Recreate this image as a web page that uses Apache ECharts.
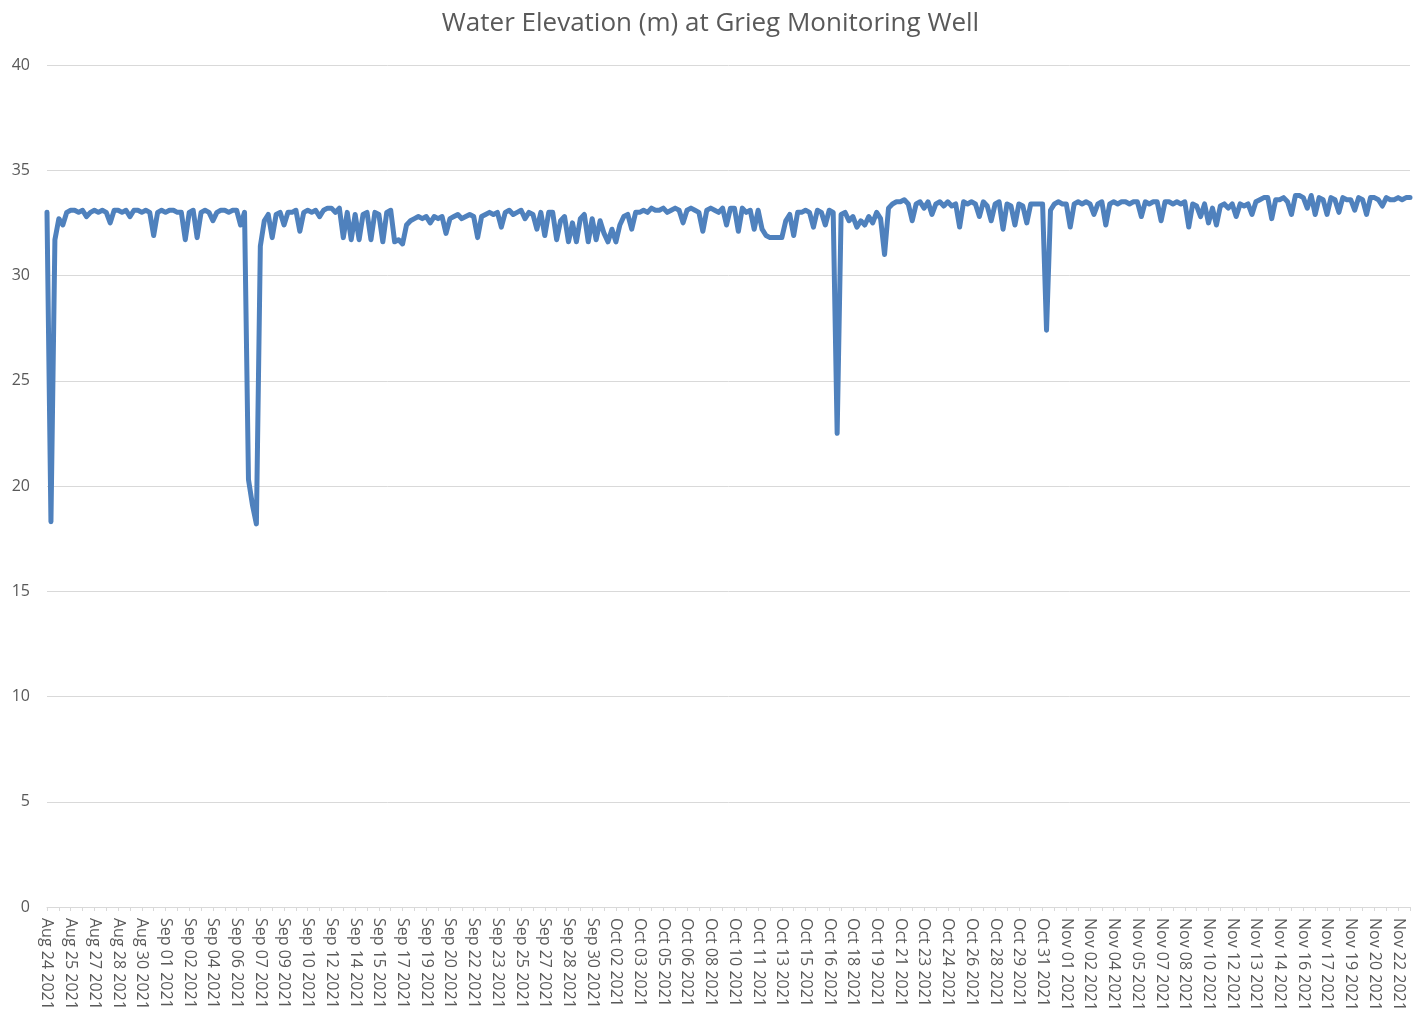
<!DOCTYPE html>
<html>
<head>
<meta charset="utf-8">
<title>Water Elevation (m) at Grieg Monitoring Well</title>
<script src="https://cdn.jsdelivr.net/npm/echarts@6/dist/echarts.min.js"></script>
<style>
  html, body { margin: 0; padding: 0; background: #fff; }
  #chart { width: 1421px; height: 1019px; }
</style>
</head>
<body>
<div id="chart"></div>
<script>
// category labels shown under the axis (one every 6 readings)
var tickLabels = [
  'Aug 24 2021', 'Aug 25 2021', 'Aug 27 2021', 'Aug 28 2021', 'Aug 30 2021',
  'Sep 01 2021', 'Sep 02 2021', 'Sep 04 2021', 'Sep 06 2021', 'Sep 07 2021',
  'Sep 09 2021', 'Sep 10 2021', 'Sep 12 2021', 'Sep 14 2021', 'Sep 15 2021',
  'Sep 17 2021', 'Sep 19 2021', 'Sep 20 2021', 'Sep 22 2021', 'Sep 23 2021',
  'Sep 25 2021', 'Sep 27 2021', 'Sep 28 2021', 'Sep 30 2021', 'Oct 02 2021',
  'Oct 03 2021', 'Oct 05 2021', 'Oct 06 2021', 'Oct 08 2021', 'Oct 10 2021',
  'Oct 11 2021', 'Oct 13 2021', 'Oct 15 2021', 'Oct 16 2021', 'Oct 18 2021',
  'Oct 19 2021', 'Oct 21 2021', 'Oct 23 2021', 'Oct 24 2021', 'Oct 26 2021',
  'Oct 28 2021', 'Oct 29 2021', 'Oct 31 2021', 'Nov 01 2021', 'Nov 02 2021',
  'Nov 04 2021', 'Nov 05 2021', 'Nov 07 2021', 'Nov 08 2021', 'Nov 10 2021',
  'Nov 12 2021', 'Nov 13 2021', 'Nov 14 2021', 'Nov 16 2021', 'Nov 17 2021',
  'Nov 19 2021', 'Nov 20 2021', 'Nov 22 2021'
];
var perLabel = 6;

// water elevation (m), 6 readings per label
var augLevels = [
  33.0, 18.3, 31.7, 32.7, 32.4, 33.0,
  33.1, 33.1, 33.0, 33.1, 32.8, 33.0,
  33.1, 33.0, 33.1, 33.0, 32.5, 33.1,
  33.1, 33.0, 33.1, 32.8, 33.1, 33.1,
  33.0, 33.1, 33.0, 31.9, 33.0, 33.1
];
var sepLevels = [
  33.0, 33.1, 33.1, 33.0, 33.0, 31.7,
  33.0, 33.1, 31.8, 33.0, 33.1, 33.0,
  32.6, 33.0, 33.1, 33.1, 33.0, 33.1,
  33.1, 32.4, 33.0, 20.3, 19.1, 18.2,
  31.4, 32.6, 32.9, 31.8, 32.9, 33.0,
  32.4, 33.0, 33.0, 33.1, 32.1, 33.0,
  33.1, 33.0, 33.1, 32.8, 33.1, 33.2,
  33.2, 33.0, 33.2, 31.8, 33.0, 31.7,
  32.9, 31.7, 32.9, 33.0, 31.7, 33.0,
  32.9, 31.6, 33.0, 33.1, 31.6, 31.7,
  31.5, 32.4, 32.6, 32.7, 32.8, 32.7,
  32.8, 32.5, 32.8, 32.7, 32.8, 32.0,
  32.7, 32.8, 32.9, 32.7, 32.8, 32.9,
  32.8, 31.8, 32.8, 32.9, 33.0, 32.9,
  33.0, 32.3, 33.0, 33.1, 32.9, 33.0,
  33.1, 32.7, 33.0, 32.9, 32.2, 33.0,
  31.9, 33.0, 33.0, 31.7, 32.6, 32.8,
  31.6, 32.5, 31.6, 32.7, 32.9, 31.6,
  32.7, 31.7, 32.6, 32.0, 31.6, 32.2
];
var octLevels = [
  31.6, 32.4, 32.8, 32.9, 32.2, 33.0,
  33.0, 33.1, 33.0, 33.2, 33.1, 33.1,
  33.2, 33.0, 33.1, 33.2, 33.1, 32.5,
  33.1, 33.2, 33.1, 33.0, 32.1, 33.1,
  33.2, 33.1, 33.0, 33.2, 32.4, 33.2,
  33.2, 32.1, 33.2, 33.0, 33.1, 32.2,
  33.1, 32.2, 31.9, 31.8, 31.8, 31.8,
  31.8, 32.6, 32.9, 31.9, 33.0, 33.0,
  33.1, 33.0, 32.3, 33.1, 33.0, 32.4,
  33.1, 33.0, 22.5, 32.9, 33.0, 32.6,
  32.8, 32.3, 32.6, 32.4, 32.8, 32.5,
  33.0, 32.7, 31.0, 33.2, 33.4, 33.5,
  33.5, 33.6, 33.4, 32.6, 33.4, 33.5,
  33.2, 33.5, 32.9, 33.4, 33.5, 33.3,
  33.5, 33.3, 33.4, 32.3, 33.5, 33.4,
  33.5, 33.4, 32.8, 33.5, 33.3, 32.6,
  33.4, 33.5, 32.2, 33.4, 33.3, 32.4,
  33.4, 33.3, 32.5, 33.4, 33.4, 33.4,
  33.4, 27.4, 33.1, 33.4, 33.5, 33.4
];
var novLevels = [
  33.4, 32.3, 33.4, 33.5, 33.4, 33.5,
  33.4, 32.9, 33.4, 33.5, 32.4, 33.4,
  33.5, 33.4, 33.5, 33.5, 33.4, 33.5,
  33.5, 32.8, 33.5, 33.4, 33.5, 33.5,
  32.6, 33.5, 33.5, 33.4, 33.5, 33.4,
  33.5, 32.3, 33.4, 33.3, 32.8, 33.4,
  32.5, 33.2, 32.4, 33.3, 33.4, 33.2,
  33.4, 32.8, 33.4, 33.3, 33.4, 32.9,
  33.5, 33.6, 33.7, 33.7, 32.7, 33.6,
  33.6, 33.7, 33.5, 32.9, 33.8, 33.8,
  33.7, 33.2, 33.8, 32.9, 33.7, 33.6,
  32.9, 33.7, 33.6, 33.0, 33.7, 33.6,
  33.6, 33.1, 33.7, 33.6, 32.9, 33.7,
  33.7, 33.6, 33.3, 33.7, 33.6, 33.6,
  33.7, 33.6, 33.7, 33.7
];

var levels = augLevels.concat(sepLevels, octLevels, novLevels);
var categories = levels.map(function (v, i) { return String(i); });

var textColor = '#595959';
var gridColor = '#d9d9d9';
var lineColor = '#4f81bd';

var chart = echarts.init(document.getElementById('chart'));
chart.setOption({
  animation: false,
  title: {
    text: 'Water Elevation (m) at Grieg Monitoring Well',
    left: 'center',
    top: 6,
    textStyle: {
      fontFamily: 'Open Sans',
      fontSize: 26,
      fontWeight: 'normal',
      color: textColor
    }
  },
  grid: { left: 47, right: 11, top: 65, bottom: 112 },
  xAxis: {
    type: 'category',
    data: categories,
    boundaryGap: false,
    axisLine: { lineStyle: { color: gridColor, width: 1 } },
    axisTick: { interval: 2, length: 4, lineStyle: { color: gridColor } },
    axisLabel: {
      interval: perLabel - 1,
      rotate: -90,
      margin: 11,
      color: textColor,
      fontFamily: 'Open Sans',
      fontSize: 16,
      formatter: function (v, i) {
        return tickLabels[i / perLabel] || '';
      }
    },
    splitLine: { show: false }
  },
  yAxis: {
    type: 'value',
    min: 0,
    max: 40,
    interval: 5,
    axisLine: { show: false },
    axisTick: { show: false },
    axisLabel: {
      margin: 17,
      color: textColor,
      fontFamily: 'Open Sans',
      fontSize: 16
    },
    splitLine: { lineStyle: { color: gridColor, width: 1 } }
  },
  series: [{
    name: 'Water Elevation (m)',
    type: 'line',
    data: levels,
    showSymbol: false,
    lineStyle: { color: lineColor, width: 5, join: 'round', cap: 'round' },
    itemStyle: { color: lineColor }
  }]
});
</script>
</body>
</html>
